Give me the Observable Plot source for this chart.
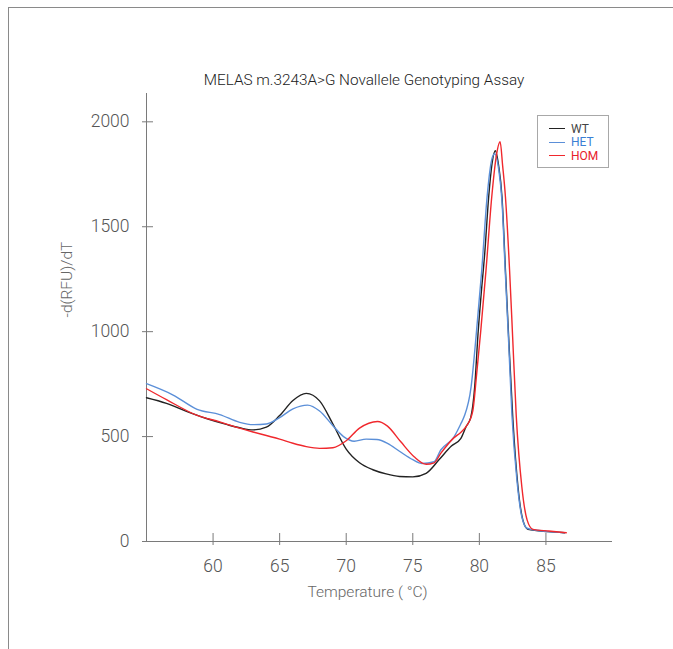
<!DOCTYPE html>
<html><head><meta charset="utf-8">
<script src="https://cdn.jsdelivr.net/npm/d3@7"></script>
<script src="https://cdn.jsdelivr.net/npm/@observablehq/plot@0.6"></script>
<style>
body{margin:0;background:#fff;font-family:Roboto,"Open Sans",sans-serif;}
#wrap{position:relative;width:673px;height:649px;overflow:hidden;}
#frame{position:absolute;left:8px;top:7px;width:700px;height:700px;border-left:1px solid #8a8a8a;border-top:1px solid #8a8a8a;pointer-events:none;}
#title{position:relative;height:90px;box-sizing:border-box;padding-top:70px;padding-left:55px;text-align:center;font-size:15.3px;line-height:20px;color:#222;font-weight:300;}
#legend{position:absolute;left:537px;top:115px;width:72px;height:53px;border:1px solid #a8a8a8;box-sizing:border-box;padding-top:6px;font-size:12px;}
#legend .row{display:flex;align-items:center;height:13.5px;padding-left:11px;}
#legend .sw{width:16px;height:0;border-top:1.5px solid;margin-right:6px;}
#chart svg{display:block;}
</style>
</head><body>
<div id="wrap">
  <div id="frame"></div>
  <div id="title"></div>
  <div id="chart"></div>
  <div id="legend"></div>
</div>
<script>
const titleText = "MELAS m.3243A>G Novallele Genotyping Assay";
const xLabel = "Temperature ( °C)";
const yLabel = "-d(RFU)/dT";
const xTicks = [60, 65, 70, 75, 80, 85];
const yTicks = [0, 500, 1000, 1500, 2000];
const seriesNames = ["WT", "HET", "HOM"];
const seriesColors = ["#222222", "#5b8fd8", "#f0282d"];
const legendTextColors = ["#444444", "#3b7fd4", "#e8202a"];

const wtTemp = [55,56.5,58,59.5,61,62,63,64,65,66,67,68,69,70,71,72,73,74,75,76,77,77.9,78.6,79.0,79.35,79.65,79.9,80.15,80.4,80.7,80.95,81.2,81.45,81.7,81.96,82.2,82.52,82.9,83.27,83.65,85.15,86.4];
const wtVal  = [685,658,620,586,558,542,532,545,600,672,706,670,560,440,375,342,322,310,308,325,392,455,490,547,590,737,990,1190,1370,1642,1800,1862,1790,1642,1293,975,579,261,102,58,47,42];

const hetTemp = [55,57,58.8,60.5,62,63,64,65,66,67.1,68,69,69.8,70.6,71.5,72.3,73.1,74,75,75.7,76.6,77.1,78.1,78.6,78.85,79.38,79.75,80.18,80.58,80.93,81.15,81.45,81.7,81.94,82.2,82.45,82.82,83.19,83.59,85.15,86.4];
const hetVal  = [752,698,630,605,568,557,560,590,632,650,622,552,500,478,488,486,468,430,390,372,380,436,499,560,594,737,975,1293,1642,1820,1848,1775,1620,1293,950,600,293,118,63,47,42];

const homTemp = [55,56.5,58.76,60.5,62,63,64,65,66,67,68,69,70,71,72.35,73.1,74.1,75.1,76,76.6,77.1,78.1,78.6,79.0,79.5,79.8,80.1,80.5,80.93,81.26,81.56,81.75,81.96,82.27,82.5,82.77,83.19,83.59,84.02,85.2,86.53];
const homVal  = [728,676,602,570,540,522,505,488,468,452,444,447,480,540,572,550,475,404,368,375,420,495,520,547,620,800,1000,1293,1642,1832,1905,1790,1642,1293,975,600,261,102,58,50,42];

const seriesTemps = [wtTemp, hetTemp, homTemp];
const seriesVals = [wtVal, hetVal, homVal];

const rows = seriesNames.flatMap((s, k) => seriesTemps[k].map((t, i) => ({series: s, t, v: seriesVals[k][i]})));

document.getElementById("title").textContent = titleText;

const axisColor = "#7a7a7a";
const tickTextColor = "#555";

const chart = Plot.plot({
  width: 673,
  height: 559,
  marginTop: 3,
  marginBottom: 108,
  marginLeft: 146,
  marginRight: 61,
  x: {domain: [55, 90]},
  y: {domain: [0, 2135]},
  color: {domain: seriesNames, range: seriesColors},
  style: {fontFamily: "Roboto, 'Open Sans', sans-serif", background: "transparent", overflow: "visible"},
  marks: [
    Plot.ruleY([0], {stroke: axisColor, insetLeft: -4}),
    Plot.ruleX([55], {stroke: axisColor}),
    Plot.axisX({ticks: xTicks, tickSize: 4, tickPadding: 14, tickFormat: d3.format("d"), fontSize: 17.5, fontWeight: 300, stroke: axisColor, fill: tickTextColor, label: null}),
    Plot.axisX({ticks: xTicks, tickSize: 8, dy: -8, tickFormat: () => "", stroke: axisColor, label: null}),
    Plot.axisY({ticks: yTicks, tickSize: 4, tickPadding: 13, tickFormat: d3.format("d"), fontSize: 17.5, fontWeight: 300, stroke: axisColor, fill: tickTextColor, label: null}),
    Plot.axisY({ticks: yTicks, tickSize: 7, dx: 7, tickFormat: () => "", stroke: axisColor, label: null}),
    Plot.line(rows, {x: "t", y: "v", z: "series", stroke: "series", strokeWidth: 1.4, curve: "monotone-x"}),
    Plot.text([xLabel], {text: d => d, frameAnchor: "bottom", dy: 55, dx: -12, fontSize: 15.5, fontWeight: 300, fill: "#666"}),
    Plot.text([yLabel], {text: d => d, frameAnchor: "left", dx: -79, rotate: -90, fontSize: 15.5, fontWeight: 300, fill: "#666"})
  ]
});
document.getElementById("chart").appendChild(chart);

const leg = document.getElementById("legend");
seriesNames.forEach((s, k) => {
  const row = document.createElement("div");
  row.className = "row";
  const sw = document.createElement("span");
  sw.className = "sw";
  sw.style.borderTopColor = seriesColors[k];
  const tx = document.createElement("span");
  tx.textContent = s;
  tx.style.color = legendTextColors[k];
  row.appendChild(sw); row.appendChild(tx);
  leg.appendChild(row);
});
</script>
</body></html>
